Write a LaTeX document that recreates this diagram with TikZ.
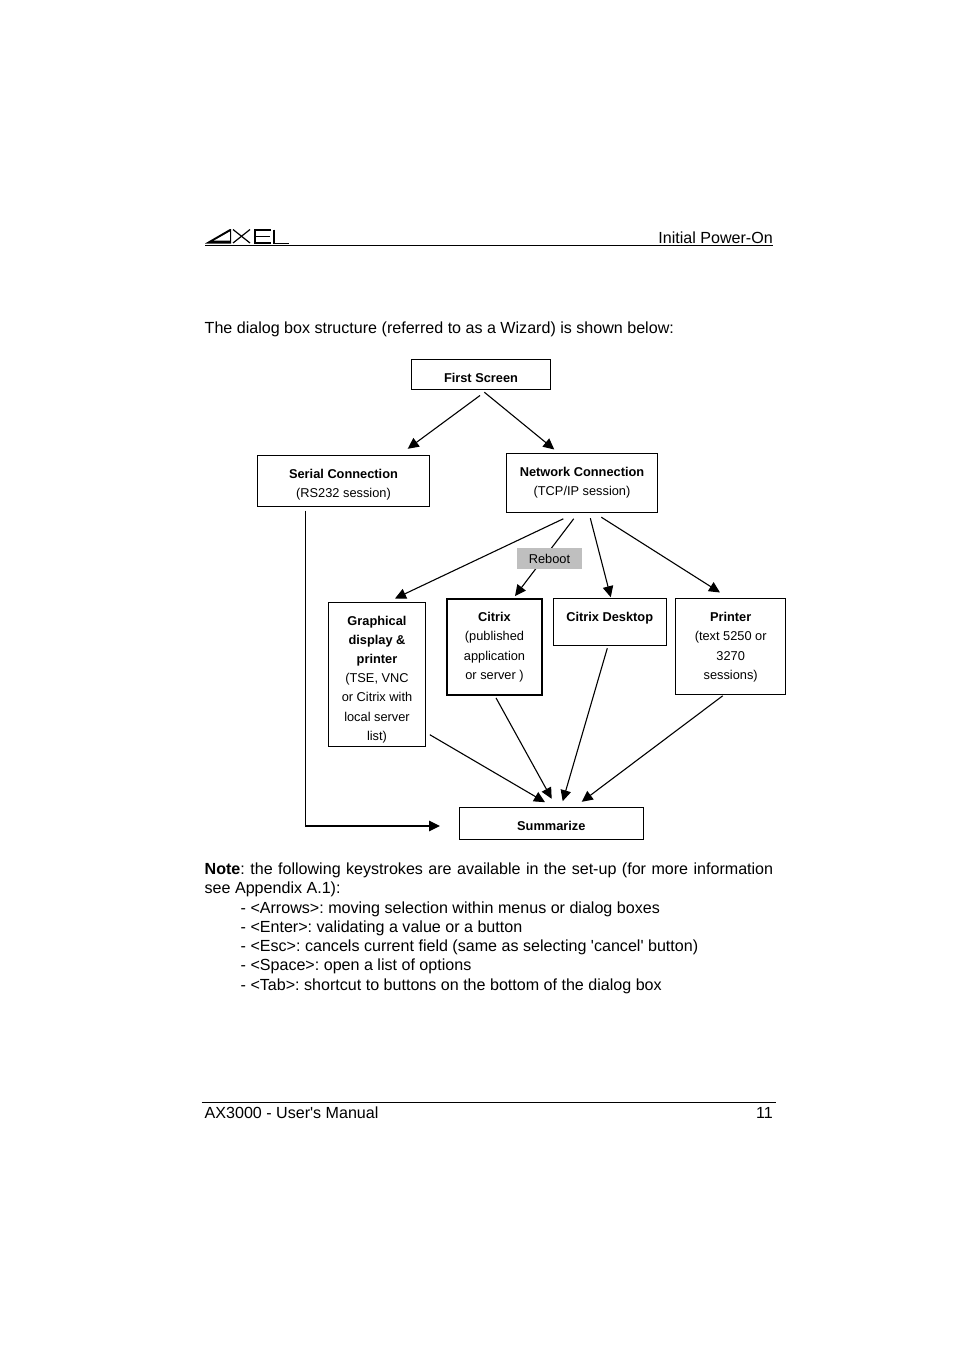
\documentclass[tikz,border=0pt]{standalone}
\usepackage{fontspec}
\setmainfont{Liberation Sans}[Ligatures=TeXOff]
\usetikzlibrary{arrows.meta}

\tikzset{
	boxnode/.style = {rectangle, draw, line width = 1pt, inner sep = 0pt, align = center, font = \fontsize{12.8}{19.2}\selectfont, text height = 0pt, text depth = 0pt},
	flowarrow/.style = {-{Triangle[length = 11pt, width = 10.5pt]}, line width = 1.1pt},
	bodytext/.style = {anchor = base west, inner sep = 0pt, font = \fontsize{16.08}{19.5}\selectfont},
	rulerline/.style = {line width = 1pt},
	logoline/.style = {line width = 1.2pt}
}

\begin{document}
\frenchspacing
\begin{tikzpicture}[x = 1pt, y = -1pt]

\useasboundingbox (0,0) rectangle (954,1351);

%% Draw Header

\node[bodytext, anchor = base east] (chapter) at (773,243) {Initial Power-On};
\coordinate (headleft) at (205,245.5);
\coordinate (headright) at (773,245.5);
\draw[rulerline] (headleft) -- (headright);

%% Draw Logo

\fill (205,243.5) -- (230,229) -- (231,229) -- (231,243.5) -- cycle;
\fill[white] (214,240.6) -- (229.8,231.6) -- (229.8,240.6) -- cycle;
\draw[logoline] (233,229.5) -- (250,243);
\draw[logoline] (250,229.5) -- (233,243);
\draw[logoline] (271,230) -- (255,230) -- (255,243) -- (271,243);
\draw[logoline] (255,236.5) -- (270,236.5);
\draw[logoline] (274,229.5) -- (274,243.5) -- (289,243.5);

%% Intro

\node[bodytext] (intro) at (204.5,333) {The dialog box structure (referred to as a Wizard) is shown below:};

%% Draw Boxes

\node[boxnode, text height = 15pt, minimum width = 139pt, minimum height = 30pt] (first) at (481,374.5) {\textbf{First Screen}};
\node[boxnode, text height = 33.4pt, minimum width = 172pt, minimum height = 51pt] (serial) at (343.5,481) {\textbf{Serial Connection}\\(RS232 session)};
\node[boxnode, text height = 25.4pt, minimum width = 151pt, minimum height = 59pt] (network) at (582,483) {\textbf{Network Connection}\\(TCP/IP session)};
\node[boxnode, text height = 131.4pt, minimum width = 97pt, minimum height = 144pt] (graphical) at (377,674.5) {\textbf{Graphical}\\\textbf{display \&}\\\textbf{printer}\\(TSE, VNC\\or Citrix with\\local server\\list)};
\node[boxnode, text height = 64.6pt, line width = 1.2pt, minimum width = 95pt, minimum height = 96pt] (citrix) at (494.5,647) {\textbf{Citrix}\\(published\\application\\or server )};
\node[boxnode, text depth = 2pt, minimum width = 112.5pt, minimum height = 47pt] (desktop) at (609.75,622) {\textbf{Citrix Desktop}};
\node[boxnode, text height = 65.6pt, minimum width = 109.5pt, minimum height = 96pt] (printer) at (730.7,646.5) {\textbf{Printer}\\(text 5250 or\\3270\\sessions)};
\node[boxnode, text height = 15pt, minimum width = 184pt, minimum height = 32pt] (summarize) at (551.3,823.3) {\textbf{Summarize}};

%% Draw Arrows

\draw[flowarrow] ([shift = {(-1,5.5)}]first.south) -- ([shift = {(64.2,-6.2)}]serial.north);
\draw[flowarrow] ([shift = {(3.3,2.2)}]first.south) -- ([shift = {(-27.7,-3.5)}]network.north);
\draw[flowarrow] ([shift = {(-18.7,5.8)}]network.south) -- ([shift = {(18,-3.5)}]graphical.north);
\draw[flowarrow] ([shift = {(-8.3,5.8)}]network.south) -- ([shift = {(20.5,-2.3)}]citrix.north);
\draw[flowarrow] ([shift = {(8.3,5.2)}]network.south) -- ([shift = {(1,-0.8)}]desktop.north);
\draw[flowarrow] ([shift = {(19.3,4.2)}]network.south) -- ([shift = {(-10.7,-5.5)}]printer.north);

\node[fill = black!25, inner sep = 0pt, minimum width = 65pt, minimum height = 21pt, text height = 9.5pt, text depth = 0pt, font = \fontsize{12.8}{15}\selectfont] (reboot) at (549.5,558.25) {Reboot};

\draw[flowarrow] ([shift = {(3.8,60.2)}]graphical.east) -- ([shift = {(-6.3,-4.6)}]summarize.north);
\draw[flowarrow] ([shift = {(1.5,2.3)}]citrix.south) -- ([shift = {(0.4,-8)}]summarize.north);
\draw[flowarrow] ([shift = {(-2.45,2.2)}]desktop.south) -- ([shift = {(11.4,-5.6)}]summarize.north);
\draw[flowarrow] ([shift = {(-8,0.8)}]printer.south) -- ([shift = {(30.4,-5)}]summarize.north);

\coordinate (serialend) at (440,826);
\draw[flowarrow] ([shift = {(-38,3.5)}]serial.south) |- (serialend);

%% Note

\node[bodytext, text width = 568.5pt, align = justify] (note) at (204.5,874) {\textbf{Note}: the following keystrokes are available in the set-up (for more information see Appendix A.1):};
\node[bodytext] (keya) at (240.5,913) {- <Arrows>: moving selection within menus or dialog boxes};
\node[bodytext] (keyb) at (240.5,932) {- <Enter>: validating a value or a button};
\node[bodytext] (keyc) at (240.5,951.5) {- <Esc>: cancels current field (same as selecting 'cancel' button)};
\node[bodytext] (keyd) at (240.5,970) {- <Space>: open a list of options};
\node[bodytext] (keye) at (240.5,990) {- <Tab>: shortcut to buttons on the bottom of the dialog box};

%% Footer

\coordinate (footleft) at (201.5,1102.5);
\coordinate (footright) at (776,1102.5);
\draw[rulerline] (footleft) -- (footright);
\node[bodytext] (manual) at (204.5,1118) {AX3000 - User's Manual};
\node[bodytext, anchor = base east] (pagenum) at (773,1118) {11};

\end{tikzpicture}
\end{document}
